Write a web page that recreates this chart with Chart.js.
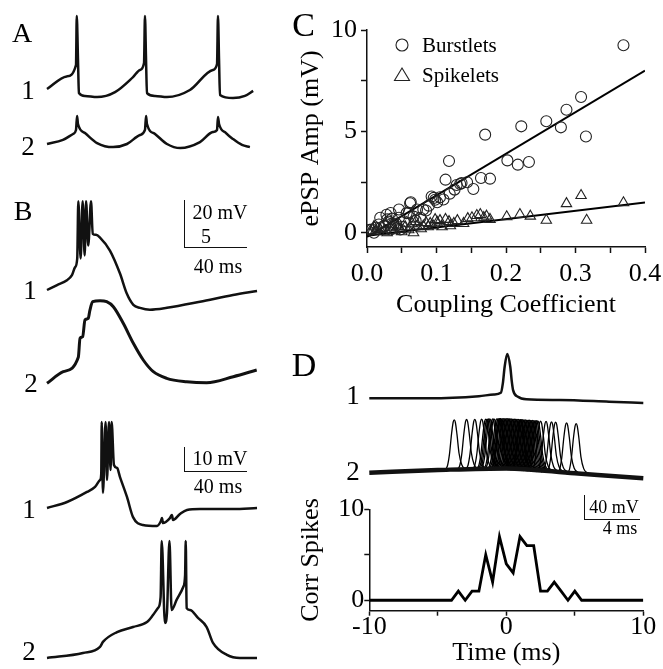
<!DOCTYPE html>
<html lang="en">
<head>
<meta charset="UTF-8">
<title>Electrical coupling figure</title>
<script src="https://cdn.jsdelivr.net/npm/chart.js"></script>
<style>
  body { margin: 0; background: #fff; }
  #fig { position: relative; width: 663px; height: 669px; background: #fff; overflow: hidden;
         font-family: "Liberation Serif", "Times New Roman", serif; color: #000; }
  #fig canvas { position: absolute; }
  .lbl { position: absolute; line-height: 1; white-space: nowrap; transform: translate(-50%, -50%); }
  .bar { position: absolute; box-sizing: border-box; border-left: 1.5px solid #111; border-bottom: 1.5px solid #111; }
  svg { position: absolute; left: 0; top: 0; }
</style>
</head>
<body>
<div id="fig"></div>
<script>
// ---- panel A traces: [time ms, mV from start] ----
const traceA1 = [[0,0],[12.7,5.3],[18.7,10.1],[19.2,30.7],[20,12.2],[20.6,-1.7],[24.5,-2.9],[32.3,-3.4],[43.9,-1.3],[55.5,5],[60,8],[62.6,10.9],[63.2,30.7],[63.9,12.2],[64.5,-1.7],[69.7,-2.9],[77.4,-3.4],[92.2,-0.4],[107,8],[109.7,10.5],[110.3,30.7],[111,12.2],[111.6,-2.5],[120,-3.8],[127.7,-2.9],[133,-0.8]];
const traceA2 = [[0,0],[10.3,1.7],[16.8,4.2],[18.7,5.9],[19.4,11.8],[20,8.4],[24.5,4.6],[32.3,0.4],[42.6,-1.3],[51.6,0],[60,3.8],[63.2,5.9],[63.9,11.8],[64.5,8.4],[69.7,4.2],[77.4,0],[86,-1.7],[98.7,0.8],[107,5],[109.7,5.9],[110.3,11.3],[111,8.4],[115.5,4.6],[120,2.1],[125.8,-0.4],[130.9,-1.3]];

// ---- panel B traces ----
const traceB1 = [[0,0],[6.5,2.1],[12.9,4.2],[16.1,6.3],[18.1,9.7],[19.5,13.4],[20.2,37.8],[21.7,13.4],[23,37.8],[24.3,14.7],[25.2,37.8],[26.6,18.9],[28.4,37.8],[29.5,23.9],[31.6,23.5],[34.2,22.3],[40.6,16.8],[47.1,7],[51.4,-1.4],[55.7,-6.3],[60,-7.6],[66.4,-8.4],[77.4,-7.6],[98.7,-5],[120,-2.1],[135.5,-0.4]];
const traceB2 = [[0,0],[10.5,1.23],[20.2,2.76],[21.3,4.77],[23,4.94],[24.5,6.71],[26.6,6.89],[27.7,7.77],[29.5,8.65],[34.2,8.76],[38.5,8.65],[42.8,8.12],[49.2,6.36],[55.7,4.24],[62.1,2.47],[68.6,1.23],[77.2,0.53],[90.1,0.17],[103,0.06],[120.2,0.7],[135.3,1.41]];
const traceB3 = [[0,0],[12.9,2.5],[25.8,6.7],[31,8.8],[34.2,11.7],[35,14.2],[35.3,35.8],[36.1,6.3],[37.8,35.8],[38.7,11.7],[40,35.8],[41,15.8],[41.7,35.8],[43.2,17.9],[45.2,16.7],[47.1,12.9],[51.6,4.6],[55.5,-3.8],[61.9,-7.1],[71,-7.5],[73.5,-5.4],[74.2,-4.2],[74.8,-6.3],[79.3,-4.2],[80.6,-2.9],[81.3,-5],[85.8,-2.5],[90.3,-0.8],[98.7,-0.4],[120,-0.4],[135.5,0]];
const traceB4 = [[0,0],[23.2,2.1],[34.2,4.6],[36.1,6.7],[45.2,10.8],[55.5,12.9],[64.5,15],[68.4,17.9],[71.6,20.8],[73.3,25.4],[74,48.8],[76.1,14.6],[77.4,18.8],[79,48.8],[80.4,20],[83.6,24.2],[87.9,29.6],[89.1,34.6],[89.5,48.8],[90.1,20.8],[92.2,20],[97.4,16.7],[103,12.9],[107.1,6.3],[116.1,1.3],[124.5,0],[135.5,0]];

// ---- panel C: [coupling coefficient, ePSP amplitude mV] ----
const burstlets = [[0.369,9.25],[0.170,4.84],[0.222,5.25],[0.258,5.5],[0.279,5.2],[0.287,6.07],[0.308,6.7],[0.315,4.75],[0.202,3.57],[0.217,3.36],[0.233,3.49],[0.118,3.54],[0.113,2.62],[0.164,2.7],[0.177,2.67],[0.153,2.16],[0.134,2.41],[0.144,2.49],[0.126,2.13],[0.119,1.93],[0.110,1.64],[0.101,1.51],[0.096,1.72],[0.089,1.34],[0.081,1.15],[0.072,1.15],[0.063,1.51],[0.060,0.98],[0.046,1.15],[0.046,0.74],[0.034,0.98],[0.029,0.66],[0.019,0.74],[0.017,0.41],[0.007,0.16],[0.010,0.0],[0.038,0.41],[0.053,0.57],[0.024,0.33],[0.034,0.16],[0.077,0.74],[0.048,0.16],[0.136,2.45],[0.129,2.36],[0.093,1.79],[0.098,1.63],[0.062,1.46],[0.028,0.89],[0.004,0.15],[0.057,0.97],[0.067,0.8],[0.036,0.7],[0.026,0.33],[0.013,0.25],[0.042,0.45],[0.085,1.1],[0.105,1.75],[0.070,0.6],[0.050,0.3],[0.031,0.55]];
const spikelets = [[0.369,1.48],[0.308,1.84],[0.287,1.44],[0.316,0.62],[0.258,0.62],[0.235,0.82],[0.220,0.9],[0.201,0.79],[0.177,0.66],[0.172,0.82],[0.163,0.9],[0.151,0.74],[0.139,0.46],[0.125,0.46],[0.113,0.66],[0.101,0.52],[0.091,0.46],[0.081,0.33],[0.072,0.33],[0.067,0.0],[0.048,0.16],[0.034,0.25],[0.019,0.16],[0.012,0.08],[0.029,0.0],[0.040,0.1],[0.055,0.3],[0.060,0.15],[0.085,0.5],[0.095,0.35],[0.105,0.6],[0.118,0.55],[0.130,0.6],[0.145,0.7],[0.158,0.85],[0.108,0.3],[0.120,0.35],[0.078,0.2],[0.050,0.05],[0.024,0.05],[0.015,0.2],[0.036,0.4],[0.044,0.3],[0.065,0.45],[0.088,0.3],[0.098,0.65],[0.168,0.75],[0.005,0.1],[0.010,0.3],[0.070,0.55]];
const burstFit = [[0,-0.2],[0.4,8.0]];
const spikeFit = [[0,-0.15],[0.4,1.5]];
const cXTicks = [0,0.05,0.1,0.15,0.2,0.25,0.3,0.35,0.4];
const cXLabels = ['0.0','','0.1','','0.2','','0.3','','0.4'];
const cYTicks = [0,2.5,5,7.5,10];
const cYLabels = ['0','','5','','10'];

// ---- panel D: traces [ms, mV] and spike cross-correlogram ----
const traceD1 = [[-10,0],[-5.6,0],[-2,3.5],[-0.9,6.3],[-0.4,9],[-0.25,25],[-0.12,52],[0.07,73],[0.29,52],[0.4,28],[0.5,13],[0.85,2.6],[1.46,-1.6],[3.9,-2.8],[7.5,-5.6],[10,-7.7]];
const traceD2Base = [[-10,0],[-5,4.4],[0,7.1],[5,-1.1],[10,-9.3]];
const spikeShape = [[-0.75,-1],[-0.5,6],[-0.35,25],[-0.2,58],[-0.08,78],[0,82],[0.08,78],[0.2,58],[0.35,27],[0.55,8],[0.8,1],[1.0,-1]];
const spikeTimes = [-3.8,-2.9,-2.3,-1.8,-1.5,-1.4,-1.3,-1.2,-1.0,-0.9,-0.7,-0.6,-0.5,-0.45,-0.4,-0.3,-0.2,-0.1,0.0,0.1,0.2,0.3,0.4,0.5,0.6,0.7,0.8,0.9,1.0,1.05,1.1,1.2,1.3,1.4,1.5,1.6,1.7,1.8,1.9,2.0,2.1,2.2,2.3,2.5,2.9,3.3,3.6,4.4,5.1];
const corrTimes = [-10,-4,-3.5,-3,-2.5,-2,-1.5,-1,-0.5,0,0.5,1,1.5,2,2.5,3,3.5,4,4.5,5,5.5,10];
const corrCounts = [0,0,1,0,1,1,5,2,7,4,3,7,6,6,1,1,2,1,0,1,0,0];
const dXTicks = [-10,-5,0,5,10];
const dXLabels = ['-10','','0','','10'];
const dYTicks = [0,5,10];
const dYLabels = ['0','','10'];

const fig = document.getElementById('fig');
Chart.defaults.font.family = '"Liberation Serif", "Times New Roman", serif';
Chart.defaults.color = '#000';
Chart.defaults.animation = false;
Chart.defaults.events = [];
Chart.defaults.plugins.legend.display = false;
Chart.defaults.plugins.tooltip.enabled = false;

function label(text, x, y, size, leftAlign) {
  const d = document.createElement('div');
  d.className = 'lbl';
  d.textContent = text;
  d.style.left = x + 'px';
  d.style.top = y + 'px';
  d.style.fontSize = size + 'px';
  if (leftAlign) d.style.transform = 'translate(0, -50%)';
  fig.appendChild(d);
}

function bar(x, y, w, h) {
  const d = document.createElement('div');
  d.className = 'bar';
  d.style.cssText = `left:${x}px;top:${y}px;width:${w}px;height:${h}px;`;
  fig.appendChild(d);
}

function canvasAt(x, y, w, h) {
  const c = document.createElement('canvas');
  c.width = w; c.height = h;
  c.style.left = x + 'px'; c.style.top = y + 'px';
  c.style.width = w + 'px'; c.style.height = h + 'px';
  fig.appendChild(c);
  return c;
}

const pts = arr => arr.map(([x, y]) => ({ x, y }));

function traceLine(data, width, color) {
  return { data: pts(data), borderColor: color || '#111', borderWidth: width, pointRadius: 0,
           cubicInterpolationMode: 'monotone', fill: false, clip: false };
}

// box = [left, top, w, h]; anchor = [t, v, px, py] puts data point (t, v) at pixel (px, py)
function traceChart(box, anchor, scale, datasets) {
  const c = canvasAt(box[0], box[1], box[2], box[3]);
  const xmin = anchor[0] - (anchor[2] - box[0]) / scale[0];
  const ymax = anchor[1] + (anchor[3] - box[1]) / scale[1];
  new Chart(c, {
    type: 'line',
    data: { datasets },
    options: {
      responsive: false, devicePixelRatio: 1,
      layout: { padding: 0 },
      scales: {
        x: { type: 'linear', display: false, min: xmin, max: xmin + box[2] / scale[0] },
        y: { type: 'linear', display: false, min: ymax - box[3] / scale[1], max: ymax }
      }
    }
  });
}

// A
traceChart([38, 8, 232, 95], [0, 0, 47, 89], [1.55, 2.38], [traceLine(traceA1, 2.5)]);
traceChart([38, 105, 232, 50], [0, 0, 47, 144], [1.55, 2.38], [traceLine(traceA2, 2.5)]);
// B
traceChart([38, 190, 232, 130], [0, 0, 47, 290], [1.55, 2.35], [traceLine(traceB1, 2.5)]);
traceChart([38, 290, 232, 100], [0, 0, 47, 383.3], [1.55, 9.43], [traceLine(traceB2, 3)]);
traceChart([38, 412, 232, 125], [0, 0, 47, 508], [1.55, 2.4], [traceLine(traceB3, 2.5)]);
traceChart([38, 532, 232, 135], [0, 0, 47, 658], [1.55, 2.4], [traceLine(traceB4, 2.5)]);

// D traces
traceChart([360, 340, 295, 70], [-10, 0, 369.3, 398.3], [13.7, 0.6075], [traceLine(traceD1, 2.5)]);

function baseAt(t) {
  for (let i = 1; i < traceD2Base.length; i++) {
    const [t0, v0] = traceD2Base[i - 1], [t1, v1] = traceD2Base[i];
    if (t <= t1) return v0 + (v1 - v0) * (t - t0) / (t1 - t0);
  }
  return traceD2Base[traceD2Base.length - 1][1];
}
const spikeSets = spikeTimes.map(ts => {
  const b = baseAt(ts);
  return traceLine(spikeShape.map(([dt, dv]) => [ts + dt, b + dv]), 1.3, '#000');
});
traceChart([360, 405, 295, 80], [-10, 0, 369.3, 472.7], [13.7, 0.6075],
  [traceLine(traceD2Base, 4.5)].concat(spikeSets));

// axis helpers
const axisGrid = { display: true, drawOnChartArea: false, drawTicks: true, tickLength: 6, color: '#111', tickWidth: 1.5 };
const axisBorder = { display: true, color: '#111', width: 1.5 };
const fixedTicks = vals => s => { s.ticks = vals.map(v => ({ value: v })); };

// C scatter
new Chart(canvasAt(290, 0, 373, 321), {
  type: 'scatter',
  data: {
    datasets: [
      { data: pts(burstlets), pointStyle: 'circle', pointRadius: 5.5, borderColor: '#222', borderWidth: 1.1, backgroundColor: 'rgba(255,255,255,0)' },
      { data: pts(spikelets), pointStyle: 'triangle', pointRadius: 6, borderColor: '#222', borderWidth: 1.1, backgroundColor: 'rgba(255,255,255,0)' },
      { data: pts(burstFit), showLine: true, pointRadius: 0, borderColor: '#000', borderWidth: 2 },
      { data: pts(spikeFit), showLine: true, pointRadius: 0, borderColor: '#000', borderWidth: 2 }
    ]
  },
  options: {
    responsive: false, devicePixelRatio: 1,
    layout: { padding: { top: 30, right: 18, left: 0, bottom: 0 } },
    scales: {
      x: {
        type: 'linear', min: 0, max: 0.4,
        afterBuildTicks: fixedTicks(cXTicks),
        afterFit: s => { s.height = 74; s.paddingLeft = 0; s.paddingRight = 0; },
        ticks: { callback: (v, i) => cXLabels[i], font: { size: 26 }, padding: 6, maxRotation: 0, autoSkip: false },
        grid: axisGrid, border: axisBorder,
        title: { display: true, text: 'Coupling Coefficient', font: { size: 26 }, padding: 0 }
      },
      y: {
        type: 'linear', min: -0.7, max: 10,
        afterBuildTicks: fixedTicks(cYTicks),
        afterFit: s => { s.width = 77; s.paddingTop = 0; s.paddingBottom = 0; },
        ticks: { callback: (v, i) => cYLabels[i], font: { size: 26 }, padding: 4, autoSkip: false },
        grid: axisGrid, border: axisBorder,
        title: { display: true, text: 'ePSP Amp (mV)', font: { size: 26 }, padding: { top: 6, bottom: 0 } }
      }
    }
  }
});

// D correlogram
new Chart(canvasAt(290, 480, 373, 189), {
  type: 'line',
  data: { datasets: [{ data: pts(corrTimes.map((t, i) => [t, corrCounts[i]])), borderColor: '#000', borderWidth: 2.8, pointRadius: 0, tension: 0 }] },
  options: {
    responsive: false, devicePixelRatio: 1,
    layout: { padding: { top: 29.3, right: 19.7, left: 0, bottom: 0 } },
    scales: {
      x: {
        type: 'linear', min: -10, max: 10,
        afterBuildTicks: fixedTicks(dXTicks),
        afterFit: s => { s.height = 58.3; s.paddingLeft = 0; s.paddingRight = 0; },
        ticks: { callback: (v, i) => dXLabels[i], font: { size: 26 }, padding: -4, maxRotation: 0, autoSkip: false },
        grid: Object.assign({}, axisGrid, { tickLength: 5 }), border: axisBorder,
        title: { display: true, text: 'Time (ms)', font: { size: 26 }, padding: 0 }
      },
      y: {
        type: 'linear', min: -1.15, max: 10,
        afterBuildTicks: fixedTicks(dYTicks),
        afterFit: s => { s.width = 79.3; s.paddingTop = 0; s.paddingBottom = 0; },
        ticks: { callback: (v, i) => dYLabels[i], font: { size: 26 }, padding: 0, autoSkip: false },
        grid: Object.assign({}, axisGrid, { tickLength: 5 }), border: axisBorder,
        title: { display: true, text: 'Corr Spikes', font: { size: 26 }, padding: { top: 6, bottom: 0 } }
      }
    }
  }
});

// legend symbols for C
fig.insertAdjacentHTML('beforeend',
  '<svg width="663" height="669"><circle cx="402" cy="45" r="6" fill="none" stroke="#222" stroke-width="1.1"/>' +
  '<polygon points="402,68 409.5,80.5 394.5,80.5" fill="none" stroke="#222" stroke-width="1.1"/></svg>');
label('Burstlets', 422, 45, 21, true);
label('Spikelets', 422, 75, 21, true);

// panel letters and trace numbers
label('A', 22, 33, 28);
label('B', 23, 211, 28);
label('C', 303.5, 25, 34);
label('D', 304, 365, 34);
label('1', 28, 90, 27); label('2', 28, 146, 27);
label('1', 30, 290, 27); label('2', 31, 383, 27);
label('1', 29, 509, 27); label('2', 29, 651, 27);
label('1', 353, 395, 27); label('2', 353, 471, 27);

// scale bars
bar(184, 200, 63, 48);
label('20 mV', 220, 212, 20); label('5', 206, 236, 20); label('40 ms', 218, 266, 20);
bar(184, 447, 63, 25);
label('10 mV', 220, 458, 20); label('40 ms', 218, 486, 20);
bar(584, 495, 56, 25);
label('40 mV', 614, 507, 18); label('4 ms', 620, 528, 18);
</script>
</body>
</html>
